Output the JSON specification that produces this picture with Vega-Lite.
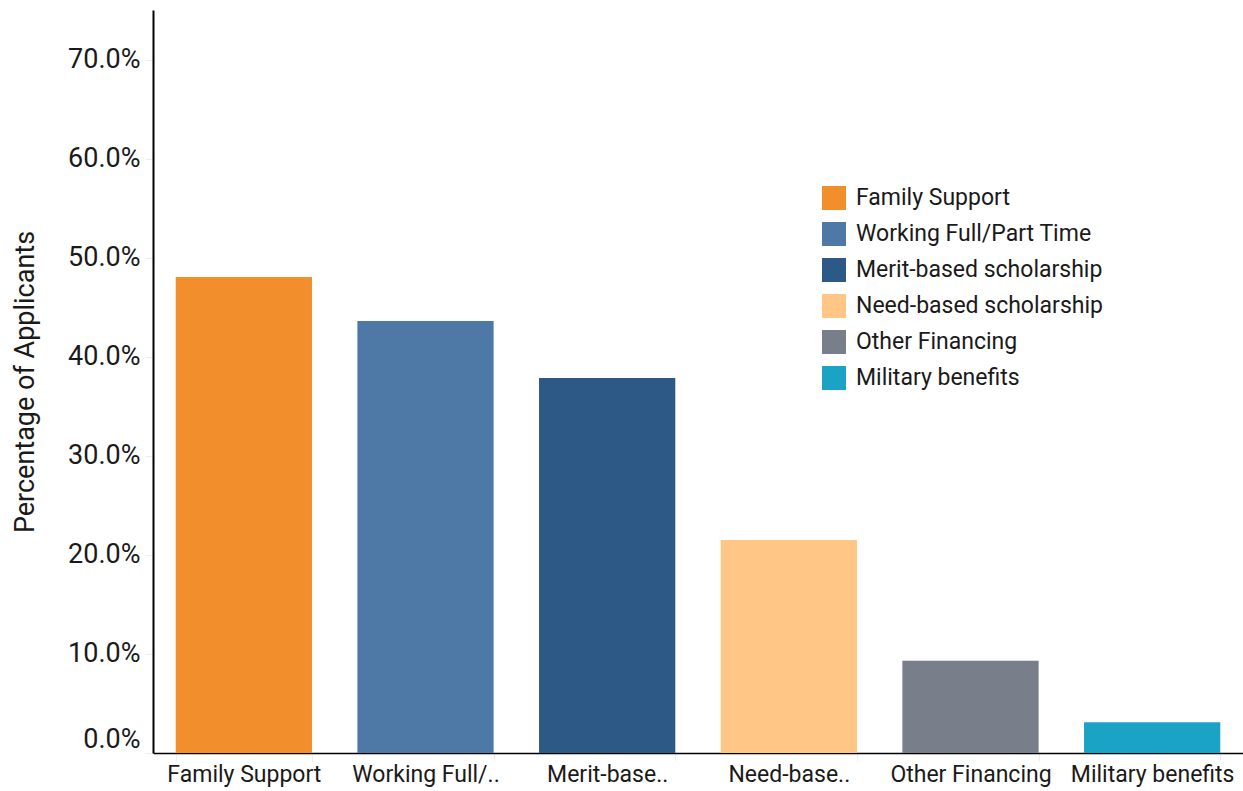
{
  "$schema": "https://vega.github.io/schema/vega-lite/v6.json",
  "width": 1090,
  "height": 743,
  "autosize": "none",
  "padding": {"left": 153, "top": 10, "right": 0, "bottom": 38},
  "background": "white",
  "config": {
    "font": "Roboto",
    "view": {"stroke": null},
    "axis": {"grid": false, "labelFont": "Roboto", "titleFont": "Roboto", "labelColor": "#1a1a1a", "titleColor": "#1a1a1a"}
  },
  "data": {
    "values": [
      {"source": "Family Support", "pct": 0.4805},
      {"source": "Working Full/Part Time", "pct": 0.436},
      {"source": "Merit-based scholarship", "pct": 0.3785},
      {"source": "Need-based scholarship", "pct": 0.215},
      {"source": "Other Financing", "pct": 0.093},
      {"source": "Military benefits", "pct": 0.031}
    ]
  },
  "mark": {"type": "bar"},
  "encoding": {
    "x": {
      "field": "source",
      "type": "nominal",
      "sort": null,
      "scale": {"paddingInner": 0.25, "paddingOuter": 0.125},
      "axis": {
        "title": null,
        "labelAngle": 0,
        "labelFontSize": 23,
        "labelPadding": 2,
        "labelLimit": 300,
        "tickBand": "extent",
        "tickColor": "#eeeeee",
        "tickSize": 8,
        "domainColor": "#000",
        "domainWidth": 1.5,
        "labelExpr": "datum.label == 'Working Full/Part Time' ? 'Working Full/..' : datum.label == 'Merit-based scholarship' ? 'Merit-base..' : datum.label == 'Need-based scholarship' ? 'Need-base..' : datum.label"
      }
    },
    "y": {
      "field": "pct",
      "type": "quantitative",
      "scale": {"domain": [0, 0.75], "nice": false},
      "axis": {
        "title": "Percentage of Applicants",
        "titleFontSize": 27,
        "titleFontWeight": "normal",
        "titlePadding": 28,
        "format": ".1%",
        "values": [0, 0.1, 0.2, 0.3, 0.4, 0.5, 0.6, 0.7],
        "labelFontSize": 27,
        "labelPadding": 5,
        "labelFlush": true,
        "tickColor": "#eeeeee",
        "tickSize": 8,
        "domainColor": "#000",
        "domainWidth": 2
      }
    },
    "color": {
      "field": "source",
      "type": "nominal",
      "sort": null,
      "scale": {
        "domain": ["Family Support", "Working Full/Part Time", "Merit-based scholarship", "Need-based scholarship", "Other Financing", "Military benefits"],
        "range": ["#F28E2B", "#4E79A7", "#2C5985", "#FFC685", "#797E8B", "#1BA3C6"]
      },
      "legend": {
        "title": null,
        "orient": "none",
        "legendX": 669,
        "legendY": 176,
        "padding": 0,
        "symbolType": "square",
        "symbolSize": 576,
        "symbolStrokeWidth": 0,
        "symbolOpacity": 1,
        "labelFontSize": 23,
        "labelFont": "Roboto",
        "labelColor": "#1a1a1a",
        "labelOffset": 10,
        "rowPadding": 12,
        "labelLimit": 400
      }
    }
  }
}
